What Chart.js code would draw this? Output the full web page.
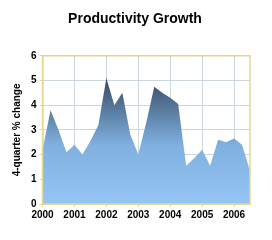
<!DOCTYPE html>
<html>
<head>
<meta charset="utf-8">
<script src="https://cdn.jsdelivr.net/npm/chart.js@4"></script>
<style>
  html, body { margin: 0; padding: 0; background: #fff; }
  #wrap { width: 272px; height: 240px; }
</style>
</head>
<body>
<div id="wrap"><canvas id="prodChart" width="272" height="240"></canvas></div>
<script>
// quarterly, 2000Q1 .. 2006Q3
const quarters = [
    2000, 2000.25, 2000.5, 2000.75,
    2001, 2001.25, 2001.5, 2001.75,
    2002, 2002.25, 2002.5, 2002.75,
    2003, 2003.25, 2003.5, 2003.75,
    2004, 2004.25, 2004.5, 2004.75,
    2005, 2005.25, 2005.5, 2005.75,
    2006, 2006.25, 2006.5
];
const growth = [
    2.2, 3.8, 3.0, 2.1,
    2.4, 2.0, 2.55, 3.2,
    5.1, 4.0, 4.5, 2.8,
    2.0, 3.3, 4.75, 4.5,
    4.3, 4.05, 1.55, 1.85,
    2.2, 1.55, 2.6, 2.5,
    2.65, 2.4, 1.35
];
const yearTicks = [2000, 2001, 2002, 2003, 2004, 2005, 2006];

const borderTan = '#e6d690';
const gridBlue = '#cbd6de';

// tan frame around the plot area
const frame = {
    id: 'frame',
    afterDatasetsDraw(chart) {
        const a = chart.chartArea;
        const c = chart.ctx;
        c.save();
        c.strokeStyle = borderTan;
        c.lineWidth = 1.5;
        c.strokeRect(a.left, a.top, a.right - a.left, a.bottom - a.top);
        c.restore();
    }
};

const ctx = document.getElementById('prodChart');
new Chart(ctx, {
    type: 'line',
    data: {
        datasets: [{
            data: quarters.map((q, i) => ({ x: q, y: growth[i] })),
            fill: 'origin',
            borderWidth: 0,
            pointRadius: 0,
            tension: 0,
            backgroundColor: function (context) {
                const area = context.chart.chartArea;
                if (!area) return '#94c4f4';
                const g = context.chart.ctx.createLinearGradient(0, area.top, 0, area.bottom);
                g.addColorStop(0, '#2e4260');
                g.addColorStop(0.2, '#3e5672');
                g.addColorStop(0.6, '#7fb0e0');
                g.addColorStop(1, '#95c5f5');
                return g;
            }
        }]
    },
    options: {
        responsive: false,
        animation: false,
        layout: { padding: { top: 4, right: 13, left: 11, bottom: 17 } },
        plugins: {
            legend: { display: false },
            tooltip: { enabled: false },
            title: {
                display: true,
                text: 'Productivity Growth',
                color: '#000',
                font: { family: 'Liberation Sans, Arial', size: 14, weight: 'bold' },
                padding: { top: 7, bottom: 28 }
            }
        },
        scales: {
            x: {
                type: 'linear',
                min: 2000,
                max: 2006.5,
                afterBuildTicks: function (axis) {
                    axis.ticks = yearTicks.map(v => ({ value: v }));
                },
                ticks: {
                    color: '#000',
                    font: { family: 'Liberation Sans, Arial', size: 10, weight: 'bold' },
                    maxRotation: 0,
                    padding: 2,
                    callback: v => String(v)
                },
                grid: { color: gridBlue, tickColor: borderTan, tickLength: 3 },
                border: { color: borderTan, width: 1.5 }
            },
            y: {
                min: 0,
                max: 6,
                ticks: {
                    stepSize: 1,
                    color: '#000',
                    font: { family: 'Liberation Sans, Arial', size: 10, weight: 'bold' },
                    padding: 3
                },
                grid: { color: gridBlue, tickColor: borderTan, tickLength: 3 },
                border: { color: borderTan, width: 1.5 },
                title: {
                    display: true,
                    text: '4-quarter % change',
                    color: '#000',
                    font: { family: 'Liberation Sans, Arial', size: 10, weight: 'bold' },
                    padding: { top: 0, bottom: 5 }
                }
            },
            // empty right-hand spacer so the title centres like the original
            yRight: {
                position: 'right',
                min: 0,
                max: 6,
                ticks: { display: false },
                grid: { display: false },
                border: { display: false },
                afterFit: function (scale) { scale.width = 9; }
            }
        }
    },
    plugins: [frame]
});
</script>
</body>
</html>
